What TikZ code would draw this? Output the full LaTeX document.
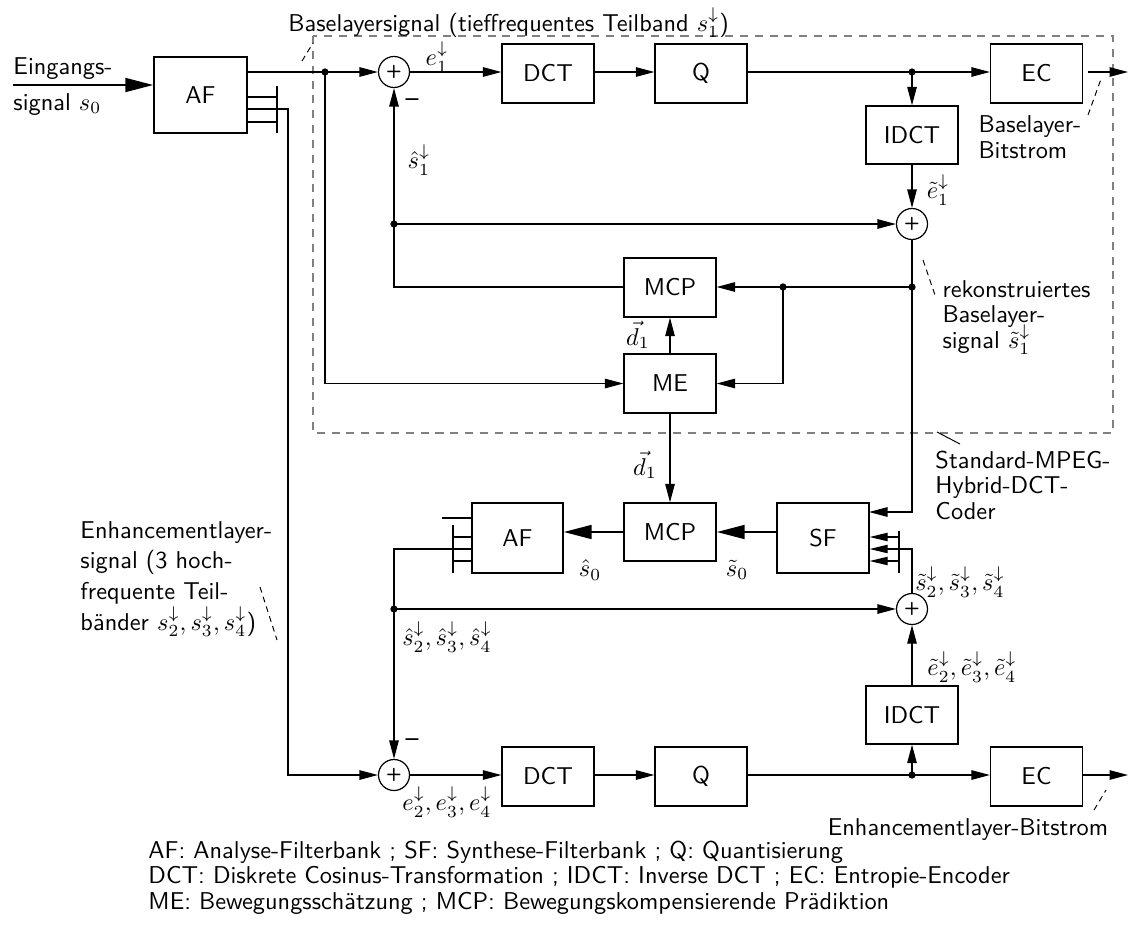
\documentclass[tikz,border=0pt]{standalone}
\usepackage{fontspec}
\usetikzlibrary{arrows.meta}
\renewcommand{\familydefault}{\sfdefault}
\newlength\pxu \setlength\pxu{0.411pt}
\newcommand\lblfont{\sffamily\fontsize{10}{10.3}\selectfont\lineskiplimit=-5pt\relax}
\begin{document}
\begin{tikzpicture}[x=0.411pt,y=-0.411pt,
  blk/.style={draw, line width=0.5pt, inner sep=0, minimum width=92\pxu, minimum height=59\pxu, font=\sffamily},
  sumn/.style={draw, circle, line width=0.5pt, inner sep=0, minimum size=31\pxu, font=\sffamily\bfseries\fontsize{7.5}{8}\selectfont},
  sig/.style={line width=0.5pt},
  arr/.style={sig, -{Triangle[length=7.6pt,width=3.9pt]}},
  sarr/.style={sig, -{Triangle[length=7.4pt,width=3.4pt]}},
  tarr/.style={line width=1.1pt, -{Triangle[length=11.5pt,width=5.6pt]}},
  dotn/.style={circle, fill, inner sep=0, minimum size=3pt},
  lbl/.style={font=\lblfont, inner sep=0, anchor=base west, align=left},
  mlbl/.style={inner sep=0},
  ptr/.style={line width=0.4pt, dash pattern=on 2.4pt off 1.8pt},
  minus/.style={inner sep=0, font=\sffamily\bfseries}
]
\useasboundingbox (0,0) rectangle (1128,946);

% dashed box
\draw[gray, line width=0.5pt, dash pattern=on 3.3pt off 2.8pt] (313,36) rectangle (1113,433);

% blocks
\node[blk, minimum width=93\pxu, minimum height=76\pxu] (AF1) at (200.5,95) {AF};
\node[sumn] (add1) at (394,72) {+};
\node[blk] (DCT1) at (548,73.5) {DCT};
\node[blk] (Q1) at (701,73.5) {Q};
\node[blk] (EC1) at (1036.5,73.5) {EC};
\node[blk, minimum height=58\pxu] (IDCT1) at (912,135) {IDCT};
\node[sumn] (add2) at (912,224) {+};
\node[blk] (MCP1) at (670,287.5) {MCP};
\node[blk] (ME) at (670,383.5) {ME};
\node[blk, minimum width=91\pxu, minimum height=70\pxu] (AF2) at (517.5,538) {AF};
\node[blk, minimum height=58\pxu] (MCP2) at (670,532) {MCP};
\node[blk, minimum height=70\pxu] (SF) at (823,538) {SF};
\node[sumn] (add3) at (912,609) {+};
\node[blk, minimum height=58\pxu] (IDCT2) at (912,715) {IDCT};
\node[sumn] (add4) at (394,775) {+};
\node[blk] (DCT2) at (548,776.5) {DCT};
\node[blk] (Q2) at (701,776.5) {Q};
\node[blk] (EC2) at (1036.5,776.5) {EC};

% coordinates
\coordinate (inS) at (13,85);
\coordinate (j1) at (325,72);
\coordinate (j2) at (912,72);
\coordinate (ecs1) at (1088,72);
\coordinate (o1) at (1128,72);
\coordinate (j3) at (394,224);
\coordinate (j5) at (912,287);
\coordinate (j6) at (783,287);
\coordinate (sfA) at (869,512);
\coordinate (j7) at (394,609);
\coordinate (j8) at (912,775);
\coordinate (o2) at (1128,775);
\coordinate (a1) at (277,97);
\coordinate (a2) at (277,109);
\coordinate (a3) at (277,122);
\coordinate (abt) at (277,86);
\coordinate (abb) at (277,133);
\coordinate (c1) at (288,109);
\coordinate (b0) at (442,518);
\coordinate (b1) at (453,537);
\coordinate (b2) at (453,549);
\coordinate (b3) at (453,561);
\coordinate (bbt) at (453,525);
\coordinate (bbb) at (453,573);
\coordinate (d1) at (899,537);
\coordinate (d2) at (899,549);
\coordinate (d3) at (899,561);
\coordinate (dbt) at (899,531);
\coordinate (dbb) at (899,573);

% input
\draw[tarr] (inS) -- (inS -| AF1.west);

% AF1 outputs
\draw[sig] (j1 -| AF1.east) -- (j1);
\draw[arr] (j1) -- (add1.west);
\draw[sig] (a1 -| AF1.east) -- (a1);
\draw[sig] (a3 -| AF1.east) -- (a3);
\draw[sig] (abt) -- (abb);
\draw[arr] (a2 -| AF1.east) -- (c1) |- (add4.west);

% base layer top row
\draw[arr] (add1.east) -- (add1.east -| DCT1.west);
\draw[arr] (DCT1.east |- add1) -- (Q1.west |- add1);
\draw[sig] (Q1.east |- j2) -- (j2);
\draw[arr] (j2) -- (j2 -| EC1.west);
\draw[arr] (ecs1) -- (o1);
\draw[arr] (j2) -- (IDCT1.north);
\draw[arr] (IDCT1.south) -- (add2.north);

% prediction loop
\draw[arr] (j3) -- (add2.west);
\draw[arr] (MCP1.west |- j5) -| (add1.south);
\draw[arr] (j1) |- (ME.west);
\draw[arr] (add2.south) |- (sfA);
\draw[arr] (j5) -- (j5 -| MCP1.east);
\draw[arr] (j6) |- (ME.east);
\draw[arr] (ME.north) -- (MCP1.south);
\draw[arr] (ME.south) -- (MCP2.north);

% enhancement reconstruction
\draw[tarr] (SF.west |- MCP2.east) -- (MCP2.east);
\draw[tarr] (MCP2.west) -- (MCP2.west -| AF2.east);
\draw[sig] (b0) -- (b0 -| AF2.west);
\draw[sig] (bbt) -- (bbb);
\draw[sig] (b1) -- (b1 -| AF2.west);
\draw[sig] (b3) -- (b3 -| AF2.west);
\draw[arr] (b2 -| AF2.west) -| (add4.north);
\draw[arr] (j7) -- (add3.west);
\draw[sig] (dbt) -- (dbb);
\draw[sarr] (d1) -- (d1 -| SF.east);
\draw[sarr] (d3) -- (d3 -| SF.east);
\draw[sarr] (add3.north) |- (d2 -| SF.east);
\draw[arr] (IDCT2.north) -- (add3.south);

% enhancement bottom row
\draw[arr] (add4.east) -- (add4.east -| DCT2.west);
\draw[arr] (DCT2.east |- add4) -- (Q2.west |- add4);
\draw[sig] (Q2.east |- j8) -- (j8);
\draw[arr] (j8) -- (j8 -| EC2.west);
\draw[arr] (j8) -- (IDCT2.south);
\draw[arr] (EC2.east |- o2) -- (o2);

% dots
\node[dotn] (dj1) at (j1) {};
\node[dotn] (dj2) at (j2) {};
\node[dotn] (dj3) at (j3) {};
\node[dotn] (dj5) at (j5) {};
\node[dotn] (dj6) at (j6) {};
\node[dotn] (dj7) at (j7) {};
\node[dotn] (dj8) at (j8) {};

% pointer lines
\draw[ptr] (302,61) -- (313,43);
\draw[ptr] (1088,115) -- (1101,79);
\draw[ptr] (923,260) -- (936,298);
\draw[line width=0.4pt] (937,432) -- (960,444);
\draw[ptr] (260,587) -- (277,640);
\draw[ptr] (1094,810) -- (1106,790);

% labels (multi-line labels: anchor = baseline of last line)
\node[lbl] (tIn1) at (13,74) {Eingangs-};
\node[lbl] (tIn2) at (13,110) {signal $s_0$};
\node[lbl] (tBase) at (288,31) {Baselayersignal (tieffrequentes Teilband $s_1^{\downarrow}$)};
\node[mlbl] (te1) at (437,57) {$e_1^{\downarrow}$};
\node[minus] (m1) at (412,103) {--};
\node[mlbl] (ts1h) at (419,160) {$\hat{s}_1^{\downarrow}$};
\node[mlbl] (te1t) at (938,190) {$\tilde{e}_1^{\downarrow}$};
\node[lbl] (tBB) at (978,158) {Baselayer-\\Bitstrom};
\node[mlbl] (td1a) at (638,335) {$\vec{d}_1$};
\node[lbl] (tRek) at (942,348) {rekonstruiertes\\Baselayer-\\signal $\tilde{s}_1^{\downarrow}$};
\node[lbl] (tStd) at (935,519) {Standard-MPEG-\\Hybrid-DCT-\\Coder};
\node[mlbl] (td1b) at (645,465) {$\vec{d}_1$};
\node[mlbl] (ts0h) at (590,570) {$\hat{s}_0$};
\node[mlbl] (ts0t) at (737,570) {$\tilde{s}_0$};
\node[lbl, font=\sffamily\fontsize{10}{12.6}\selectfont] (tEnh) at (80,630) {Enhancementlayer-\\signal (3 hoch-\\frequente Teil-\\bänder $s_2^{\downarrow}, s_3^{\downarrow}, s_4^{\downarrow}$)};
\node[mlbl] (ts2h) at (447,637) {$\hat{s}_2^{\downarrow}, \hat{s}_3^{\downarrow}, \hat{s}_4^{\downarrow}$};
\node[mlbl] (ts2t) at (960,582) {$\tilde{s}_2^{\downarrow}, \tilde{s}_3^{\downarrow}, \tilde{s}_4^{\downarrow}$};
\node[mlbl] (te2t) at (972,667) {$\tilde{e}_2^{\downarrow}, \tilde{e}_3^{\downarrow}, \tilde{e}_4^{\downarrow}$};
\node[minus] (m2) at (412,743) {--};
\node[mlbl] (te2) at (447,802) {$e_2^{\downarrow}, e_3^{\downarrow}, e_4^{\downarrow}$};
\node[mlbl, font=\sffamily] (tEB) at (968,830) {Enhancementlayer-Bitstrom};
\node[lbl] (tLeg) at (148,909) {AF: Analyse-Filterbank ; SF: Synthese-Filterbank ; Q: Quantisierung\\DCT: Diskrete Cosinus-Transformation ; IDCT: Inverse DCT ; EC: Entropie-Encoder\\ME: Bewegungsschätzung ; MCP: Bewegungskompensierende Prädiktion};
\end{tikzpicture}
\end{document}
